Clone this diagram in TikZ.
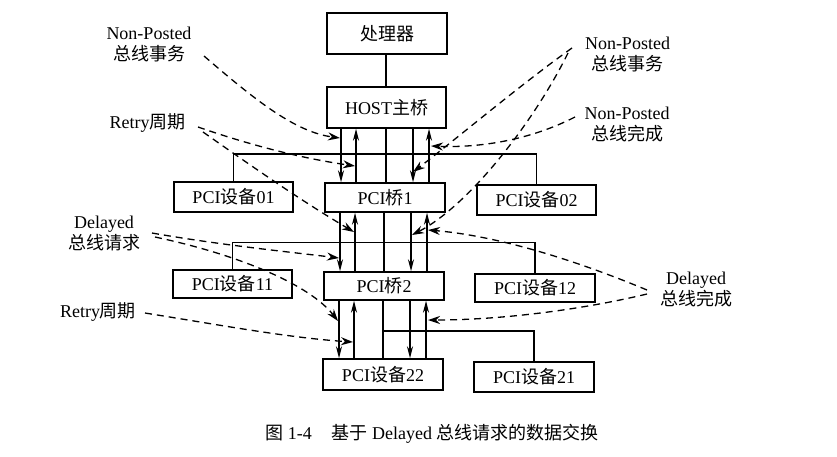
\documentclass[tikz,border=0pt]{standalone}
\usepackage{fontspec}
\setmainfont{Liberation Serif}
\newfontfamily\cjk{Noto Sans CJK SC}
\usetikzlibrary{arrows.meta}
\newcommand\zh[1]{{\cjk #1}}
\begin{document}
\begin{tikzpicture}[x=1pt,y=-1pt,
  box/.style={draw,line width=1.5pt,inner sep=0pt,font=\fontsize{18}{20}\selectfont},
  wire/.style={line width=1.3pt},
  dn/.style={wire,-{Stealth[length=12pt,width=6pt]}},
  up/.style={wire,{Stealth[length=12pt,width=6pt]}-},
  note/.style={line width=1.3pt,dash pattern=on 7pt off 5pt,-{Stealth[length=12pt,width=8pt]}},
  lbl/.style={align=center,inner sep=0pt,font=\fontsize{18}{21}\selectfont}]
\useasboundingbox (0,0) rectangle (837,456);
% boxes
\node[box,minimum width=120pt,minimum height=41pt] (cpu) at (387,33.5) {\zh{处理器}};
\node[box,minimum width=119pt,minimum height=41pt] (host) at (386.5,107.5) {HOST\zh{主桥}};
\node[box,minimum width=120pt,minimum height=29pt] (b1) at (385,197.5) {PCI\zh{桥}1};
\node[box,minimum width=119pt,minimum height=30pt] (d01) at (233.5,197) {PCI\zh{设备}01};
\node[box,minimum width=119pt,minimum height=30pt] (d02) at (536.5,200) {PCI\zh{设备}02};
\node[box,minimum width=120pt,minimum height=28pt] (b2) at (384,286) {PCI\zh{桥}2};
\node[box,minimum width=119pt,minimum height=28pt] (d11) at (232.5,284) {PCI\zh{设备}11};
\node[box,minimum width=120pt,minimum height=28pt] (d12) at (535,288) {PCI\zh{设备}12};
\node[box,minimum width=120pt,minimum height=31pt] (d22) at (383,374.5) {PCI\zh{设备}22};
\node[box,minimum width=120pt,minimum height=30pt] (d21) at (534,377) {PCI\zh{设备}21};
% x positions of the signal lines
\foreach \n/\x in {a1/341,a2/356,a3/386,a4/413,a5/429,
                   b1x/340,b2x/355,b3x/384,b4x/411,b5x/427,
                   c1/339,c2/354,c3/383,c4/410,c5/426}
  \coordinate (\n) at (\x,0);
\coordinate (y1) at (0,154);
\coordinate (y2) at (0,242.5);
\coordinate (y3) at (0,331);
% cpu - host
\draw[wire] (cpu.south -| a3) -- (host.north -| a3);
% host - bridge 1
\draw[dn] (host.south -| a1) -- (b1.north -| a1);
\draw[up] (host.south -| a2) -- (b1.north -| a2);
\draw[wire] (host.south -| a3) -- (b1.north -| a3);
\draw[dn] (host.south -| a4) -- (b1.north -| a4);
\draw[up] (host.south -| a5) -- (b1.north -| a5);
\draw[wire] (d01.north) -- (d01.north |- y1) -- (d02.north |- y1) -- (d02.north);
% bridge 1 - bridge 2
\draw[dn] (b1.south -| b1x) -- (b2.north -| b1x);
\draw[up] (b1.south -| b2x) -- (b2.north -| b2x);
\draw[wire] (b1.south -| b3x) -- (b2.north -| b3x);
\draw[dn] (b1.south -| b4x) -- (b2.north -| b4x);
\draw[up] (b1.south -| b5x) -- (b2.north -| b5x);
\draw[wire] (d11.north) -- (d11.north |- y2) -- (d12.north |- y2) -- (d12.north);
% bridge 2 - device 22
\draw[dn] (b2.south -| c1) -- (d22.north -| c1);
\draw[up] (b2.south -| c2) -- (d22.north -| c2);
\draw[wire] (b2.south -| c3) -- (d22.north -| c3);
\draw[dn] (b2.south -| c4) -- (d22.north -| c4);
\draw[up] (b2.south -| c5) -- (d22.north -| c5);
\draw[wire] (c3 |- y3) -- (d21.north |- y3) -- (d21.north);
% labels
\node[lbl] (npl) at (149,44) {Non-Posted\\\zh{总线事务}};
\node[lbl] (rt1) at (147.5,123) {Retry\zh{周期}};
\node[lbl] (npr) at (627.5,54) {Non-Posted\\\zh{总线事务}};
\node[lbl] (npc) at (627,125) {Non-Posted\\\zh{总线完成}};
\node[lbl] (dlr) at (104,233) {Delayed\\\zh{总线请求}};
\node[lbl] (rt2) at (98,312) {Retry\zh{周期}};
\node[lbl] (dlc) at (696,289.5) {Delayed\\\zh{总线完成}};
\node[lbl] (cap) at (432,434) {\zh{图} 1-4\hspace{1.1em}\zh{基于} Delayed \zh{总线请求的数据交换}};
% dashed annotation arrows
\coordinate (s1) at (204,56);   \coordinate (t1) at (340,138);
\coordinate (s2) at (198,127);  \coordinate (t2) at (355,166);
\coordinate (s3) at (203,132);  \coordinate (t3) at (354,232);
\coordinate (s4) at (152,233);  \coordinate (t4) at (339,258);
\coordinate (s5) at (155,237);  \coordinate (t5) at (338,321);
\coordinate (s6) at (145,313);  \coordinate (t6) at (353,342);
\coordinate (s7) at (572,48);   \coordinate (t7) at (413,172);
\coordinate (s8) at (568,53);   \coordinate (t8) at (412,235);
\coordinate (s9) at (575,117);  \coordinate (t9) at (431,146);
\coordinate (s10) at (647,290); \coordinate (t10) at (428,230);
\coordinate (s11) at (647,294); \coordinate (t11) at (428,320);
\draw[note] (s1) .. controls (255,100) and (295,132) .. (t1);
\draw[note] (s2) .. controls (250,145) and (300,158) .. (t2);
\draw[note] (s3) .. controls (250,165) and (300,200) .. (t3);
\draw[note] (s4) .. controls (220,245) and (290,252) .. (t4);
\draw[note] (s5) .. controls (240,255) and (310,285) .. (t5);
\draw[note] (s6) .. controls (220,325) and (290,338) .. (t6);
\draw[note] (s7) .. controls (520,85) and (455,140) .. (t7);
\draw[note] (s8) .. controls (535,120) and (470,205) .. (t8);
\draw[note] (s9) .. controls (530,140) and (480,148) .. (t9);
\draw[note] (s10) .. controls (580,262) and (500,236) .. (t10);
\draw[note] (s11) .. controls (580,310) and (500,320) .. (t11);
\end{tikzpicture}
\end{document}
